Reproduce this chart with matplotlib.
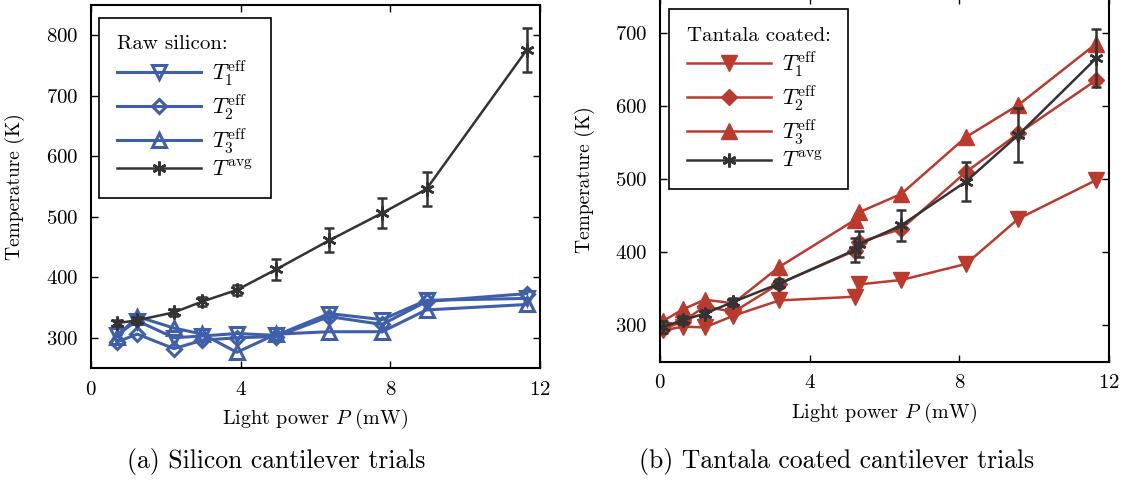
import matplotlib
matplotlib.use("Agg")
import matplotlib.pyplot as plt

plt.rcParams['font.family'] = ['cmr10', 'DejaVu Serif']
plt.rcParams['mathtext.fontset'] = 'cm'
plt.rcParams['axes.formatter.use_mathtext'] = True
plt.rcParams['xtick.direction'] = 'in'
plt.rcParams['ytick.direction'] = 'in'

# raw silicon runs
p_si = [0.69, 1.24, 2.22, 2.98, 3.9, 4.95, 6.37, 7.78, 8.97, 11.65]
si_t1 = [305, 328, 300, 303, 307, 304, 340, 330, 362, 365]
si_t2 = [293, 306, 282, 296, 300, 302, 335, 322, 360, 373]
si_t3 = [302, 335, 316, 306, 276, 306, 310, 310, 346, 355]
si_avg = [324, 329, 342, 360, 379, 413, 461, 506, 546, 776]
si_err = [5, 6, 6, 7, 8, 17, 20, 25, 28, 36]

# tantala coated runs
p_ta = [0.09, 0.62, 1.2, 1.96, 3.19, 5.2, 5.33, 6.45, 8.18, 9.58, 11.66]
ta_t1 = [293, 298, 297, 313, 334, 339, 356, 362, 384, 446, 499]
ta_t2 = [295, 305, 326, 318, 357, 402, 414, 432, 510, 563, 636]
ta_t3 = [306, 322, 335, 330, 380, 444, 455, 480, 558, 602, 686]
ta_avg = [298, 307, 316, 332, 357, 403, 411, 437, 497, 561, 666]
ta_err = [8, 5, 5, 5, 6, 16, 18, 21, 27, 37, 40]

labels = [r'$T_1^{\rm eff}$', r'$T_2^{\rm eff}$', r'$T_3^{\rm eff}$', r'$T^{\rm avg}$']

blue = '#3f5fab'
red = '#bb3a2e'
dark = '#333333'
star = (6, 2, 0)

fig = plt.figure(figsize=(11.27, 4.8), dpi=100)
ax1 = fig.add_axes([0.0807, 0.2333, 0.3984, 0.7563])
ax2 = fig.add_axes([0.5856, 0.2465, 0.3984, 0.7598])

si_lines = []
for m, t in zip(['v', 'D', '^'], [si_t1, si_t2, si_t3]):
    ln, = ax1.plot(p_si, t, color=blue, lw=2.2, marker=m,
                   ms=10 if m != 'D' else 7.5, mfc='none', mew=2.2)
    si_lines.append(ln)
ax1.errorbar(p_si, si_avg, yerr=si_err, fmt='none', ecolor=dark,
             capsize=3.5, elinewidth=1.8, capthick=1.8)
ln, = ax1.plot(p_si, si_avg, color=dark, lw=1.8, marker=star, ms=10, mew=1.8)
si_lines.append(ln)

ta_lines = []
for m, t in zip(['v', 'D', '^'], [ta_t1, ta_t2, ta_t3]):
    ln, = ax2.plot(p_ta, t, color=red, lw=1.8, marker=m,
                   ms=11 if m != 'D' else 8, mfc=red, mec=red)
    ta_lines.append(ln)
ax2.errorbar(p_ta, ta_avg, yerr=ta_err, fmt='none', ecolor=dark,
             capsize=3.5, elinewidth=1.8, capthick=1.8)
ln, = ax2.plot(p_ta, ta_avg, color=dark, lw=1.8, marker=star, ms=10, mew=1.8)
ta_lines.append(ln)

ax1.set_ylim(250, 850)
ax2.set_ylim(250, 750)
ax1.set_yticks([300, 400, 500, 600, 700, 800])
ax2.set_yticks([300, 400, 500, 600, 700])

panels = [(ax1, si_lines, 'Raw silicon:', -0.147, (0.018, 0.965)),
          (ax2, ta_lines, 'Tantala coated:', -0.145, (0.02, 0.966))]
for ax, handles, title, ylab_x, anchor in panels:
    ax.set_xlim(0, 12)
    ax.set_xticks([0, 4, 8, 12])
    ax.tick_params(top=True, right=True, length=5, width=1, labelsize=15, pad=9)
    for s in ax.spines.values():
        s.set_linewidth(1.5)
    ax.set_xlabel(r'Light power $P$ (mW)', fontsize=14.5, labelpad=6)
    ax.set_ylabel('Temperature (K)', fontsize=14)
    ax.yaxis.set_label_coords(ylab_x, 0.5)
    leg = ax.legend(handles, labels, title=title, loc='upper left',
                    bbox_to_anchor=anchor, borderaxespad=0,
                    fontsize=16, title_fontsize=15,
                    fancybox=False, edgecolor='black', framealpha=1,
                    handlelength=3.8, labelspacing=0.2, borderpad=0.8,
                    handletextpad=0.5, alignment='left')
    leg.get_frame().set_linewidth(1.2)

fig.text(0.245, 0.025, '(a) Silicon cantilever trials', ha='center', fontsize=18.5)
fig.text(0.742, 0.025, '(b) Tantala coated cantilever trials', ha='center', fontsize=18.5)

fig.savefig('out.png', dpi=100)
